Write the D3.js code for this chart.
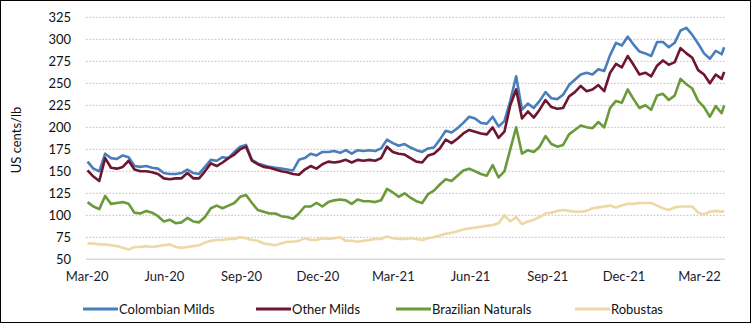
<!DOCTYPE html>
<html>
<head>
<meta charset="utf-8">
<script src="https://cdn.jsdelivr.net/npm/d3@7"></script>
<style>
  html, body { margin: 0; padding: 0; background: #fff; }
  svg { display: block; font-family: Lato, "Open Sans", sans-serif; }
</style>
</head>
<body>
<svg id="chart" width="752" height="324"></svg>
<script>
// ---- data (weekly readings, Mon 2 Mar 2020 onward, plus final reading 31 Mar 2022) ----
const startDate = "2020-03-02";
const endDate = "2022-03-31";
const colombianMilds = [161,153,150,170,165,164,168,166,156,155, 156,154,153,148,147,147,148,152,148,147,
  155,163,162,166,165,172,178,180,163,159, 157,155,154,153,152,151,163,165,170,168,
  172,172,173,171,174,170,174,173,174,173, 176,186,182,179,181,177,174,172,176,177,
  186,196,194,199,205,212,210,205,204,212, 201,207,230,258,220,227,222,230,240,233,
  232,237,248,254,260,262,260,266,264,282, 296,293,303,294,286,284,281,297,297,291,
  296,310,313,305,295,284,278,287,283,291];
const otherMilds = [151,144,139,165,154,153,155,162,152,150, 150,149,147,142,141,142,142,148,142,142,
  150,159,156,160,165,169,175,178,162,158, 155,154,152,150,149,147,146,152,156,153,
  158,161,160,161,163,160,163,162,163,162, 165,178,172,170,169,165,161,160,168,170,
  176,186,182,187,193,197,195,193,192,200, 188,195,225,243,210,218,211,220,231,223,
  221,222,235,240,247,241,243,248,241,262, 272,268,281,271,260,262,258,270,276,271,
  274,290,284,279,265,260,250,260,255,263];
const brazilianNaturals = [115,110,107,122,113,114,115,113,103,102, 105,103,99,93,95,91,92,97,93,92,
  98,108,111,108,111,114,121,123,114,106, 104,102,102,99,98,96,102,110,110,114,
  110,115,117,118,117,113,118,116,116,115, 117,130,126,121,125,120,116,114,124,128,
  135,141,139,145,151,153,150,147,145,157, 143,150,175,200,170,174,172,178,190,181,
  178,180,192,197,202,200,199,206,200,222, 230,228,243,232,222,225,220,236,238,231,
  236,255,249,244,230,223,212,224,216,225];
const robustas = [68,68,67,67,66,65,63,61,64,64, 65,64,65,66,67,64,63,64,65,66,
  69,71,72,72,73,73,75,74,72,71, 68,67,66,68,70,70,71,74,72,72,
  74,73,74,75,71,71,70,71,72,73, 73,76,74,73,73,74,73,72,74,75,
  77,79,80,82,84,85,86,87,88,89, 91,100,93,98,90,93,95,98,102,103,
  105,106,105,104,104,105,108,109,110,111, 109,111,113,113,114,114,114,111,108,106,
  109,110,110,110,103,101,104,105,104,105];
const seriesNames = ["Colombian Milds", "Other Milds", "Brazilian Naturals", "Robustas"];
const seriesColors = ["#4A7EBB", "#6E1530", "#6B9A3B", "#EDD8A6"];
const yTicks = [50,75,100,125,150,175,200,225,250,275,300,325];
const xTickLabels = ["Mar-20","Jun-20","Sep-20","Dec-20","Mar-21","Jun-21","Sep-21","Dec-21","Mar-22"];
const yTitle = "US cents/lb";

// ---- dates ----
const parse = d3.timeParse("%Y-%m-%d");
const dates = [];
for (let i = 0; i < colombianMilds.length - 1; i++) dates.push(d3.timeDay.offset(parse(startDate), 7 * i));
dates.push(parse(endDate));
const tickDates = xTickLabels.map(s => d3.timeParse("%b-%y")(s));

const allSeries = [colombianMilds, otherMilds, brazilianNaturals, robustas];

// ---- layout ----
const svg = d3.select("#chart");
const x = d3.scaleTime().domain([parse("2020-03-01"), parse("2022-04-01")]).range([86.7, 725]);
const y = d3.scaleLinear().domain([50, 325]).range([259.3, 17.3]);

// frame
svg.append("rect").attr("x", 0.5).attr("y", 0.5).attr("width", 750).attr("height", 322)
  .attr("fill", "#fff").attr("stroke", "#000").attr("stroke-width", 1);

// gridlines
svg.append("g").selectAll("line").data(yTicks.filter(t => t > 50)).join("line")
  .attr("x1", 86).attr("x2", 725)
  .attr("y1", d => y(d)).attr("y2", d => y(d))
  .attr("stroke", "#d0d0d0").attr("stroke-width", 1.3).attr("stroke-dasharray", "1.8 1.5");
// baseline
svg.append("line").attr("x1", 86).attr("x2", 725).attr("y1", y(50)).attr("y2", y(50))
  .attr("stroke", "#d9d9d9").attr("stroke-width", 1.5);

// y axis labels
const yAxis = d3.axisLeft(y).tickValues(yTicks).tickSize(0).tickPadding(0);
const gy = svg.append("g").attr("transform", "translate(71,0)").call(yAxis);
gy.select(".domain").remove();
gy.selectAll("text").attr("font-size", 13).attr("fill", "#111").attr("font-family", "Lato");

// x axis labels
const xAxis = d3.axisBottom(x).tickValues(tickDates).tickFormat((d, i) => xTickLabels[i]).tickSize(0).tickPadding(0);
const gx = svg.append("g").attr("transform", "translate(0,272)").call(xAxis);
gx.select(".domain").remove();
gx.selectAll("text").attr("font-size", 13).attr("fill", "#1b1b2b").attr("font-family", "Lato");

// y title
svg.append("text").attr("transform", "translate(21,140) rotate(-90)")
  .attr("text-anchor", "middle").attr("font-size", 13).attr("fill", "#111").text(yTitle);

// lines
const line = d3.line().x((d, i) => x(dates[i])).y(d => y(d));
svg.append("g").selectAll("path").data(allSeries).join("path")
  .attr("d", d => line(d))
  .attr("fill", "none")
  .attr("stroke", (d, i) => seriesColors[i])
  .attr("stroke-width", 2.6)
  .attr("stroke-linejoin", "round");

// legend
const legendX = [83, 256, 396, 575];
const lg = svg.append("g").selectAll("g").data(seriesNames).join("g")
  .attr("transform", (d, i) => `translate(${legendX[i]},309)`);
lg.append("line").attr("x1", 0).attr("x2", 35).attr("y1", 0).attr("y2", 0)
  .attr("stroke", (d, i) => seriesColors[i]).attr("stroke-width", 3);
lg.append("text").attr("x", 36).attr("y", 0).attr("dy", "0.35em")
  .attr("font-size", 13).attr("fill", "#111").text(d => d);
</script>
</body>
</html>
